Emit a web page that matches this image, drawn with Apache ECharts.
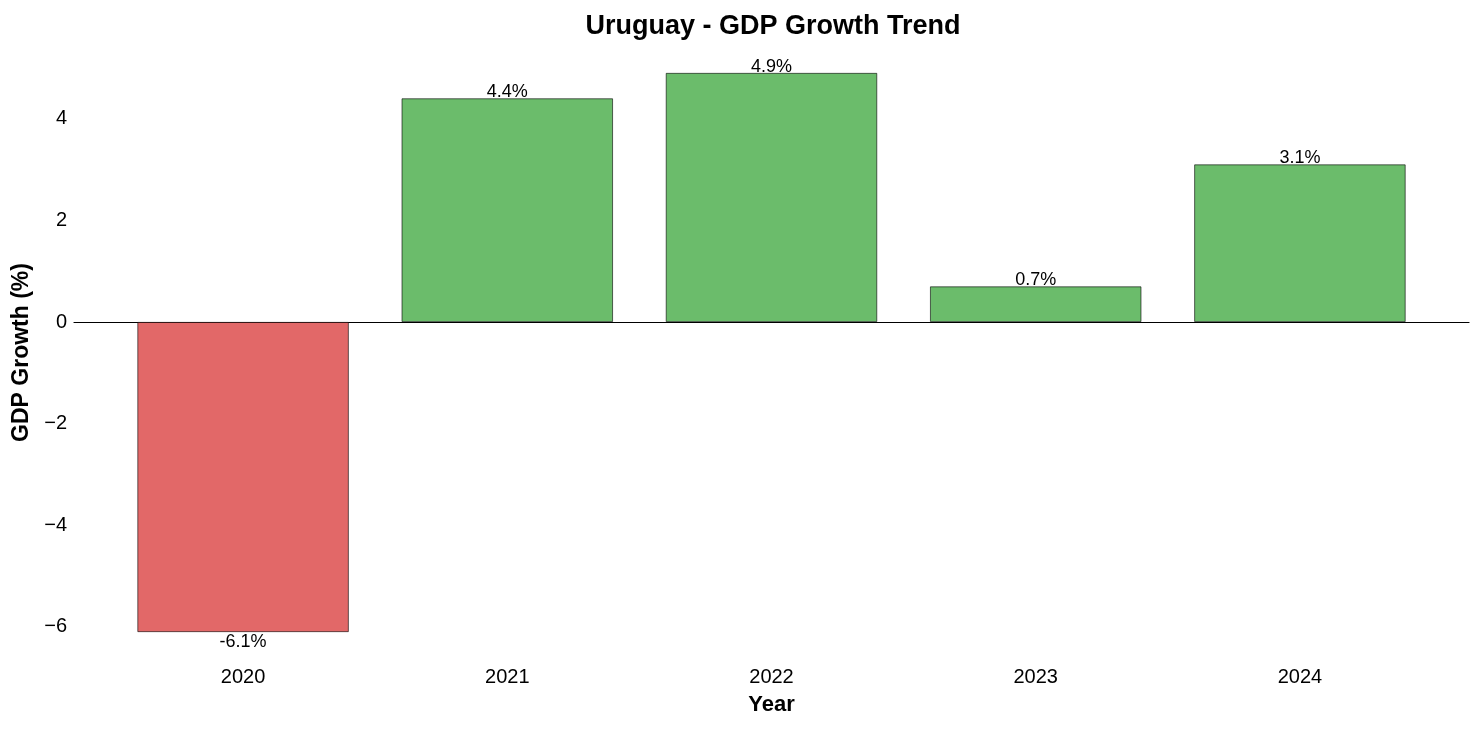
<!DOCTYPE html>
<html>
<head>
<meta charset="utf-8">
<script src="https://cdn.jsdelivr.net/npm/echarts@6/dist/echarts.min.js"></script>
<style>
html,body{margin:0;padding:0;background:#fff;}
#chart{width:1484px;height:729px;}
</style>
</head>
<body>
<div id="chart"></div>
<script>
const years = ['2020', '2021', '2022', '2023', '2024'];
const growth = [-6.1, 4.4, 4.9, 0.7, 3.1];
const yTicks = [-6, -4, -2, 0, 2, 4];

const posColor = '#6BBC6B';
const negColor = '#E26868';
const font = 'Arial, "Liberation Sans", Helvetica, sans-serif';

const chart = echarts.init(document.getElementById('chart'));
const data = growth.map((v, i) => ({
  value: [i, v],
  itemStyle: { color: v < 0 ? negColor : posColor },
  label: { position: v < 0 ? 'bottom' : 'top', distance: v < 0 ? 1 : -3 }
}));

chart.setOption({
  animation: false,
  backgroundColor: '#fff',
  title: {
    text: 'Uruguay - GDP Growth Trend',
    left: 768,
    textAlign: 'center',
    top: 8,
    textStyle: { fontFamily: font, fontSize: 27, fontWeight: 'bold', color: '#000' }
  },
  grid: { left: 74, right: 15, top: 45, bottom: 69 },
  xAxis: {
    type: 'value',
    min: -0.64,
    max: years.length - 1 + 0.64,
    name: 'Year',
    nameLocation: 'middle',
    nameGap: 34,
    nameTextStyle: { fontFamily: font, fontSize: 22, fontWeight: 'bold', color: '#000' },
    splitLine: { show: false },
    axisTick: { show: false },
    axisLine: { show: true, onZero: true, lineStyle: { color: '#000', width: 1.2 } },
    axisLabel: {
      customValues: years.map((_, i) => i),
      formatter: v => years[Math.round(v)],
      fontFamily: font, fontSize: 20, color: '#000', margin: 7
    }
  },
  yAxis: {
    type: 'value',
    min: -6.65,
    max: 5.45,
    name: 'GDP Growth (%)',
    nameLocation: 'middle',
    nameGap: 36,
    nameTextStyle: { fontFamily: font, fontSize: 23, fontWeight: 'bold', color: '#000' },
    splitLine: { show: false },
    axisTick: { show: false },
    axisLine: { show: false },
    axisLabel: {
      customValues: yTicks,
      formatter: v => (v < 0 ? '\u2212' + Math.abs(v) : String(v)),
      fontFamily: font, fontSize: 20, color: '#000', margin: 7
    }
  },
  series: [{
    type: 'bar',
    data: data,
    barWidth: '80%',
    itemStyle: { borderColor: 'rgba(0,0,0,0.75)', borderWidth: 0.8 },
    label: {
      show: true,
      formatter: p => p.value[1].toFixed(1) + '%',
      fontFamily: font, fontSize: 18, color: '#000'
    }
  }]
});
</script>
</body>
</html>
